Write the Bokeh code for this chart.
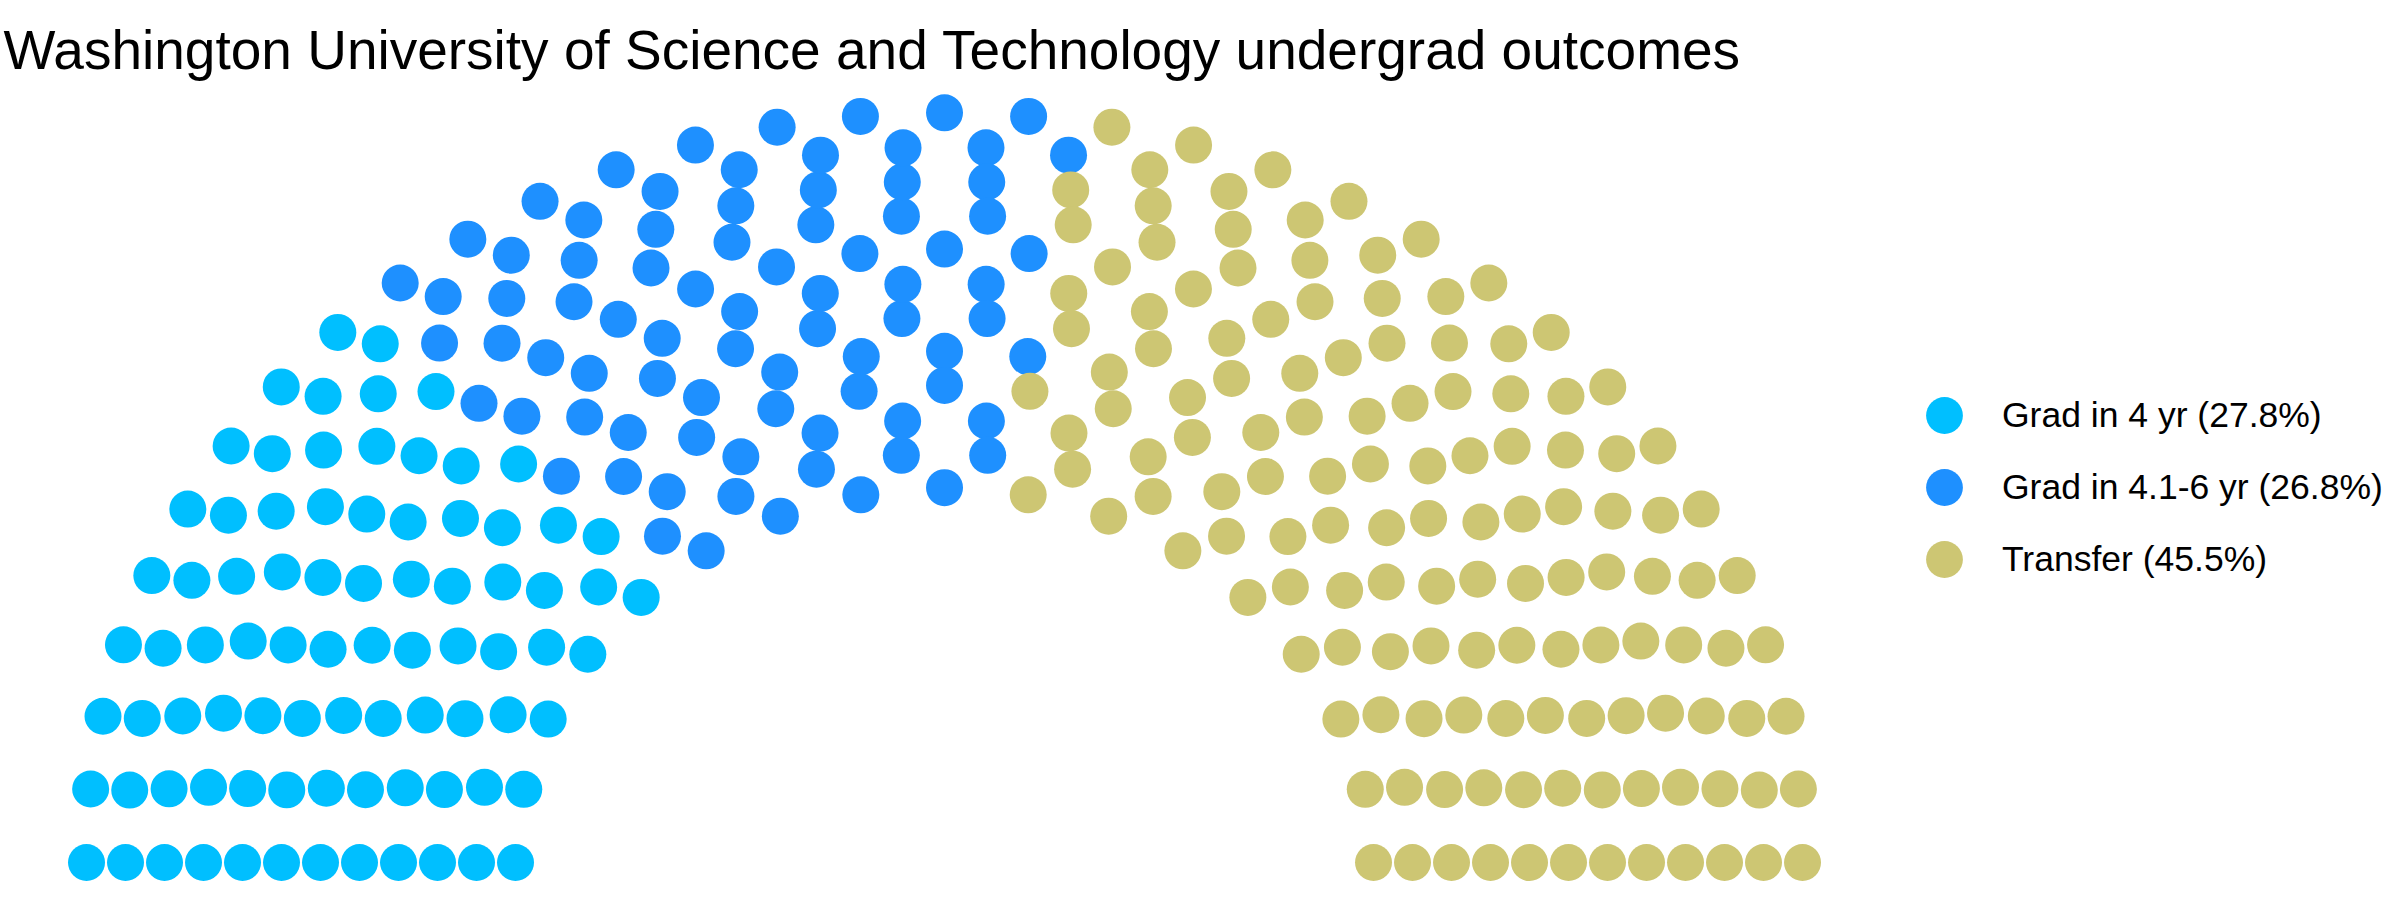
import numpy as np
from bokeh.plotting import figure
from bokeh.models import ColumnDataSource, Legend, LegendItem, Label, Range1d
from bokeh.embed import file_html
from bokeh.resources import INLINE

# ---- data ----
chart_title = "Washington University of Science and Technology undergrad outcomes"
parties = ["Grad in 4 yr", "Grad in 4.1-6 yr", "Transfer"]
party_seats = [83, 80, 136]
party_colors = ["#00BFFF", "#1E90FF", "#CDC673"]
row_seats = [17, 18, 20, 21, 23, 24, 26, 27, 28, 30, 32, 33]

# ---- parliament (semicircle) layout, as in ggparliament ----
n_rows = len(row_seats)
radii = np.linspace(1.0, 2.0, n_rows)
xs, ys, th_all, row_all = [], [], [], []
for i, n in enumerate(row_seats):
    th = np.linspace(0.0, np.pi, n)
    xs.extend(radii[i] * np.cos(th))
    ys.extend(radii[i] * np.sin(th))
    th_all.extend(th)
    row_all.extend([i + 1] * n)
xs = np.array(xs); ys = np.array(ys)
th_all = np.array(th_all); row_all = np.array(row_all)
order = np.lexsort((-row_all, -np.round(th_all, 9)))
xs = xs[order]; ys = ys[order]
party_idx = np.repeat(np.arange(len(parties)), party_seats)

total = sum(party_seats)
labels = [f"{p} ({s / total * 100:.1f}%)" for p, s in zip(parties, party_seats)]

W, H = 2384, 884
p = figure(width=W, height=H, output_backend="svg", toolbar_location=None,
           x_axis_type=None, y_axis_type=None, min_border=0,
           x_range=Range1d(-2.2005, 3.3566), y_range=Range1d(-0.0587, 2.2996))
p.outline_line_color = None
p.background_fill_color = "white"
p.border_fill_color = "white"

renderers = []
for k, col in enumerate(party_colors):
    m = party_idx == k
    src = ColumnDataSource(dict(x=xs[m], y=ys[m]))
    r = p.scatter("x", "y", source=src, marker="circle", size=37,
                  fill_color=col, line_color=None)
    renderers.append(r)

# one legend box per entry, stacked 72px apart
legend_bottoms = [423, 351, 279]
for lab, r, yb in zip(labels, renderers, legend_bottoms):
    lg = Legend(items=[LegendItem(label=lab, renderers=[r])], location=(1898, yb),
                glyph_width=92, glyph_height=92, spacing=0, padding=0, margin=0,
                label_standoff=12, label_text_font="Liberation Sans",
                label_text_font_size="35.5px", label_text_color="black",
                border_line_color=None, background_fill_alpha=0.0)
    p.add_layout(lg, "center")

title_lbl = Label(x=3, y=835, x_units="screen", y_units="screen", text=chart_title,
                  text_font="Liberation Sans", text_font_size="55px",
                  text_color="black", text_baseline="alphabetic", text_align="left")
p.add_layout(title_lbl)

open("out.html", "w").write(file_html(p, INLINE))
